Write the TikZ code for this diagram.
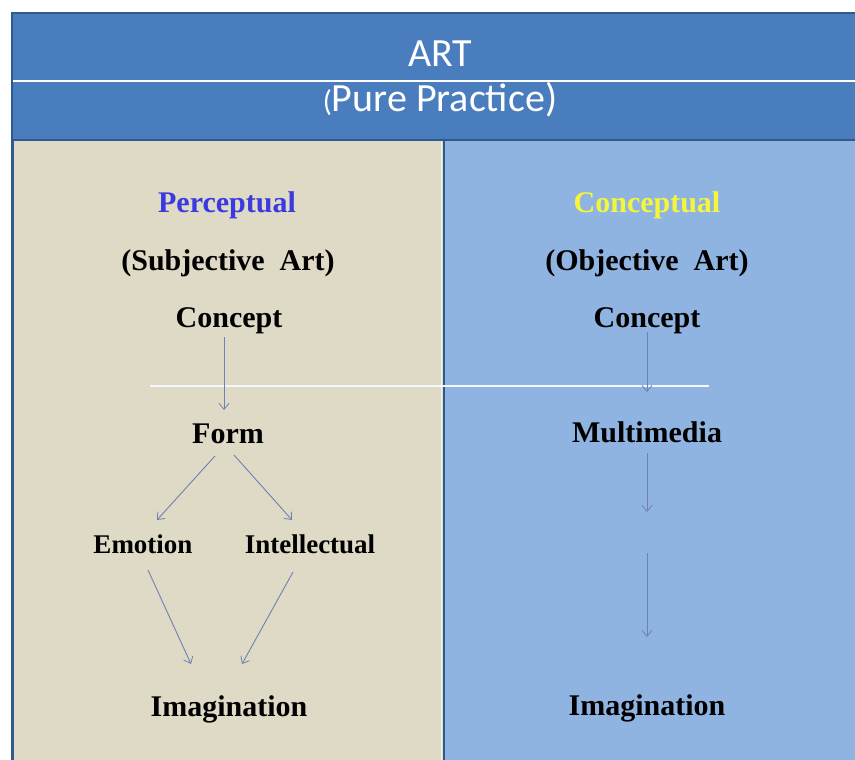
\documentclass[tikz,border=0pt]{standalone}
\usepackage{fontspec}
\setmainfont{Liberation Serif}
\newfontfamily\hdrfont{Carlito}
\usetikzlibrary{arrows.meta}
\definecolor{hdrblue}{HTML}{4A7DBD}
\definecolor{edgeblue}{HTML}{2F5A8E}
\definecolor{beige}{HTML}{DEDAC5}
\definecolor{lightblue}{HTML}{8FB4E1}
\definecolor{arrowblue}{HTML}{6F80B4}
\definecolor{percblue}{HTML}{3A3AE0}
\definecolor{concyellow}{HTML}{F5F53A}
\tikzset{
  lbl/.style={inner sep=0pt, anchor=base, font=\fontsize{30}{36}\selectfont\bfseries, text=black},
  smalllbl/.style={lbl, font=\fontsize{27}{32}\selectfont\bfseries},
  hdr/.style={inner sep=0pt, anchor=base, font=\hdrfont\fontsize{40}{48}\selectfont, text=white},
  conn/.style={draw=arrowblue, line width=0.9pt, -{Straight Barb[length=6pt,width=10pt,line width=0.8pt]}},
}
\begin{document}
\begin{tikzpicture}[x=1pt,y=-1pt]
\useasboundingbox (0,0) rectangle (855,760);
\fill[white] (0,0) rectangle (855,760);
% header
\fill[hdrblue] (12,13) rectangle (855,140);
\draw[edgeblue, line width=1.5pt] (12,760) -- (12,13) -- (855,13);
\draw[white, line width=1.5pt] (13,81) -- (855,81);
% panels
\fill[beige] (13,141) rectangle (443,760);
\fill[lightblue] (444,141) rectangle (855,760);
\draw[white!70!beige, line width=1pt] (441,141) -- (441,760);
\draw[edgeblue, line width=2pt] (12,140) -- (855,140);
\draw[edgeblue, line width=1.5pt] (444,140) -- (444,760);
\draw[edgeblue, line width=2pt] (13,140) -- (13,760);
% thin white line
\draw[white!90!lightblue, line width=1.2pt] (150,386) -- (709,386);
% header texts
\node[hdr] (art) at (440,67) {ART};
\node[hdr] (pure) at (440,112) {{\fontsize{30}{36}\selectfont(}Pure Practice)};
% left column
\node[lbl, text=percblue] (perc) at (227,212) {Perceptual};
\node[lbl] (subj) at (228,270) {(Subjective\ \ Art)};
\node[lbl] (lconc) at (229,327) {Concept};
\node[lbl] (form) at (228,443) {Form};
\node[smalllbl] (emo) at (143,553) {Emotion};
\node[smalllbl] (intel) at (310,553) {Intellectual};
\node[lbl] (limag) at (229,716) {Imagination};
% right column
\node[lbl, text=concyellow] (conc) at (647,212) {Conceptual};
\node[lbl] (obj) at (647,270) {(Objective\ \ Art)};
\node[lbl] (rconc) at (647,327) {Concept};
\node[lbl] (multi) at (647,442) {Multimedia};
\node[lbl] (rimag) at (647,715) {Imagination};
% free ends on the right
\coordinate (m1) at (647,512);
\coordinate (m2) at (647,553);
\coordinate (m3) at (647,637);
% left arrows
\draw[conn] (224,337) -- (224,410);
\draw[conn] (215,456) -- (157,520);
\draw[conn] (234,455) -- (292,520);
\draw[conn] (148,570) -- (191,664);
\draw[conn] (293,572) -- (242,664);
% right arrows
\draw[conn] (647,332) -- (647,392);
\draw[conn] (647,453) -- (m1);
\draw[conn] (m2) -- (m3);
\end{tikzpicture}
\end{document}
